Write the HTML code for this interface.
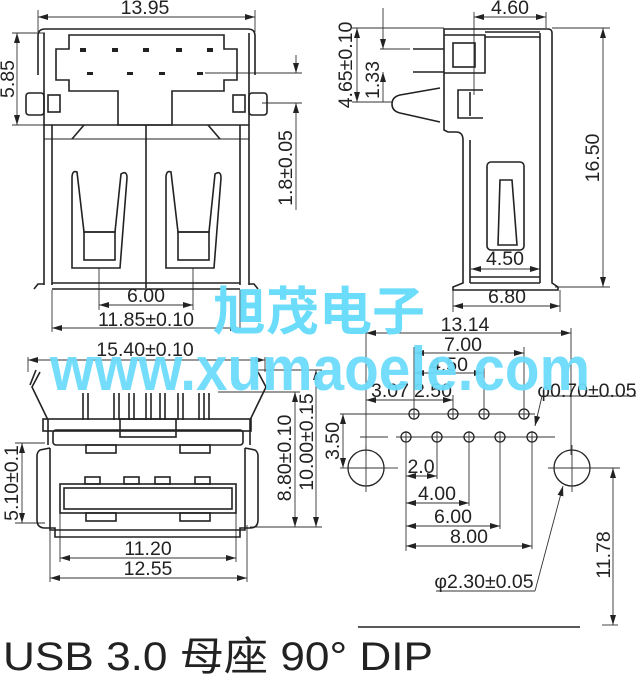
<!DOCTYPE html>
<html><head><meta charset="utf-8"><style>
html,body{margin:0;padding:0;background:#fff;}
svg{display:block;font-family:"Liberation Sans","Noto Sans CJK SC",sans-serif;}
.l{stroke:#222;stroke-width:1.6;fill:none}
.t{stroke:#333;stroke-width:0.9;fill:none}
.d{font-size:19.5px;fill:#222}
</style></head><body>
<svg width="639" height="676" viewBox="0 0 639 676" xmlns="http://www.w3.org/2000/svg">
<defs>
<marker id="a" viewBox="0 0 10 6" refX="10" refY="3" markerWidth="10" markerHeight="6" orient="auto-start-reverse" markerUnits="userSpaceOnUse"><path d="M0,0L10,3L0,6z" fill="#222"/></marker>
</defs>

<!-- ===== Top-left front view ===== -->
<g class="t">
<line x1="38" y1="10" x2="38" y2="32"/><line x1="255" y1="10" x2="255" y2="32"/>
<line x1="38" y1="17" x2="255" y2="17" marker-start="url(#a)" marker-end="url(#a)"/>
<line x1="12" y1="33" x2="45" y2="33"/><line x1="12" y1="125" x2="45" y2="125"/>
<line x1="17" y1="33" x2="17" y2="125" marker-start="url(#a)" marker-end="url(#a)"/>
<line x1="205" y1="73" x2="302" y2="73"/><line x1="262" y1="103" x2="302" y2="103"/>
<line x1="296" y1="55" x2="296" y2="73" marker-end="url(#a)"/>
<line x1="296" y1="103" x2="296" y2="210" marker-start="url(#a)"/>
<line x1="99" y1="268" x2="99" y2="310"/><line x1="193" y1="268" x2="193" y2="310"/>
<line x1="99" y1="305" x2="193" y2="305" marker-start="url(#a)" marker-end="url(#a)"/>
<line x1="52" y1="290" x2="52" y2="332"/><line x1="240" y1="290" x2="240" y2="332"/>
<line x1="52" y1="328" x2="240" y2="328" marker-start="url(#a)" marker-end="url(#a)"/>
</g>
<text class="d" x="145" y="14" text-anchor="middle">13.95</text>
<text class="d" transform="translate(14,79) rotate(-90)" text-anchor="middle">5.85</text>
<text class="d" transform="translate(292,168) rotate(-90)" text-anchor="middle">1.8±0.05</text>
<text class="d" x="146" y="302" text-anchor="middle">6.00</text>
<text class="d" x="146" y="326" text-anchor="middle">11.85±0.10</text>

<g class="l">
<path d="M38,75 L38,36 Q38,29 45,29 L248,29 Q255,29 255,36 L255,75"/>
<line x1="44" y1="33" x2="44" y2="125"/><line x1="249" y1="33" x2="249" y2="125"/>
<polygon points="69,35 224,35 224,49 237,49 237,80 224,80 224,91 172,91 172,125 118,125 118,91 69,91 69,80 56,80 56,49 69,49"/>
<line x1="44" y1="125" x2="249" y2="125"/>
<line x1="44" y1="139" x2="249" y2="139" style="stroke-width:1"/>
<line x1="44" y1="125" x2="44" y2="285"/><line x1="249" y1="125" x2="249" y2="285"/>
<line x1="52" y1="125" x2="52" y2="285"/><line x1="240" y1="125" x2="240" y2="285"/>
<line x1="146" y1="125" x2="146" y2="288"/>
<line x1="52" y1="283" x2="240" y2="283"/><line x1="52" y1="289" x2="240" y2="289"/>
<path d="M34,289 L38,284 L44,284"/><path d="M258,289 L254,284 L249,284"/>
<line x1="84" y1="125" x2="72" y2="139"/><line x1="208" y1="125" x2="220" y2="139"/>
<rect x="26" y="93" width="18" height="22" rx="3"/><rect x="48" y="95" width="12" height="17"/>
<rect x="249" y="93" width="18" height="22" rx="3"/><rect x="233" y="95" width="12" height="17"/>
<path d="M72,268 L72,178 Q72,170 77,172 L84,232 L115,232 L121,174 Q127,170 127,178 L120,268 Z"/>
<rect x="84" y="232" width="31" height="28"/>
<path d="M166,268 L166,178 Q166,170 171,172 L178,232 L209,232 L215,174 Q221,170 221,178 L214,268 Z"/>
<rect x="178" y="232" width="31" height="28"/>
</g>
<g fill="#222">
<rect x="80" y="48" width="6" height="4"/><rect x="112" y="48" width="6" height="4"/><rect x="143" y="48" width="6" height="4"/><rect x="176" y="48" width="6" height="4"/><rect x="207" y="48" width="6" height="4"/>
<rect x="87" y="72" width="6" height="3"/><rect x="127" y="72" width="6" height="3"/><rect x="159" y="72" width="6" height="3"/><rect x="197" y="72" width="6" height="3"/>
</g>

<!-- ===== Top-right side view ===== -->
<g class="t">
<line x1="474" y1="12" x2="474" y2="95"/><line x1="546" y1="12" x2="546" y2="28"/>
<line x1="474" y1="17" x2="546" y2="17" marker-start="url(#a)" marker-end="url(#a)"/>
<line x1="552" y1="28" x2="610" y2="28"/><line x1="555" y1="287" x2="610" y2="287"/>
<line x1="603" y1="28" x2="603" y2="287" marker-start="url(#a)" marker-end="url(#a)"/>
<line x1="352" y1="28" x2="444" y2="28"/><line x1="352" y1="102" x2="392" y2="102"/>
<line x1="357" y1="28" x2="357" y2="102" marker-start="url(#a)" marker-end="url(#a)"/>
<line x1="380" y1="49" x2="410" y2="49"/>
<line x1="383" y1="8" x2="383" y2="49" marker-end="url(#a)"/>
<line x1="383" y1="72" x2="383" y2="102" marker-start="url(#a)"/>
<line x1="453" y1="290" x2="453" y2="312"/><line x1="560" y1="290" x2="560" y2="312"/>
<line x1="453" y1="306" x2="560" y2="306" marker-start="url(#a)" marker-end="url(#a)"/>
<line x1="471" y1="269" x2="540" y2="269" marker-start="url(#a)" marker-end="url(#a)"/>
</g>
<text class="d" x="510" y="14" text-anchor="middle">4.60</text>
<text class="d" transform="translate(599,158) rotate(-90)" text-anchor="middle">16.50</text>
<text class="d" transform="translate(352,65) rotate(-90)" text-anchor="middle">4.65±0.10</text>
<text class="d" transform="translate(379,80) rotate(-90)" text-anchor="middle">1.33</text>
<text class="d" x="505" y="265" text-anchor="middle">4.50</text>
<text class="d" x="507" y="303" text-anchor="middle">6.80</text>
<g class="l">
<path d="M444,130 L444,29 L548,29 Q552,29 552,33 L552,283 L558,287 L558,290 L453,290 L453,287 L463,283 L463,140 Q463,132 456,132 L448,132 Z"/>
<line x1="540" y1="33" x2="540" y2="283"/>
<line x1="485" y1="32" x2="540" y2="32"/><line x1="485" y1="37" x2="540" y2="37"/>
<path d="M444,35 L485,35 L485,73 L444,73"/>
<rect x="453" y="43" width="22" height="24"/>
<path d="M483,90 L458,90 L458,118 L483,118 M470,92 L470,116"/>
<path d="M440,88 L400,95 Q392,97 392,104 Q392,111 400,113 L440,122"/>
<line x1="413" y1="49" x2="444" y2="49"/><line x1="413" y1="72" x2="444" y2="72"/>
<line x1="470" y1="140" x2="470" y2="283"/>
<line x1="470" y1="283" x2="540" y2="283"/><line x1="470" y1="277" x2="540" y2="277"/>
<rect x="487" y="162" width="37" height="88" rx="4"/>
<path d="M498,245 L500,180 L512,180 L517,245 Z"/>
</g>

<!-- ===== Bottom-left front view ===== -->
<g class="t">
<line x1="28" y1="357" x2="28" y2="372"/><line x1="265" y1="357" x2="265" y2="372"/>
<line x1="28" y1="360" x2="265" y2="360" marker-start="url(#a)" marker-end="url(#a)"/>
<line x1="255" y1="370" x2="322" y2="370"/><line x1="218" y1="392" x2="300" y2="392"/>
<line x1="250" y1="527" x2="322" y2="527"/>
<line x1="295" y1="392" x2="295" y2="527" marker-start="url(#a)" marker-end="url(#a)"/>
<line x1="316" y1="370" x2="316" y2="527" marker-start="url(#a)" marker-end="url(#a)"/>
<line x1="15" y1="443" x2="45" y2="443"/><line x1="15" y1="523" x2="45" y2="523"/>
<line x1="22" y1="443" x2="22" y2="523" marker-start="url(#a)" marker-end="url(#a)"/>
<line x1="60" y1="512" x2="60" y2="562"/><line x1="236" y1="512" x2="236" y2="562"/>
<line x1="60" y1="558" x2="236" y2="558" marker-start="url(#a)" marker-end="url(#a)"/>
<line x1="50" y1="525" x2="50" y2="582"/><line x1="247" y1="525" x2="247" y2="582"/>
<line x1="50" y1="578" x2="247" y2="578" marker-start="url(#a)" marker-end="url(#a)"/>
</g>
<text class="d" x="145" y="356" text-anchor="middle">15.40±0.10</text>
<text class="d" transform="translate(291,458) rotate(-90)" text-anchor="middle">8.80±0.10</text>
<text class="d" transform="translate(313,442) rotate(-90)" text-anchor="middle">10.00±0.15</text>
<text class="d" transform="translate(18,483) rotate(-90)" text-anchor="middle">5.10±0.1</text>
<text class="d" x="148" y="555" text-anchor="middle">11.20</text>
<text class="d" x="148" y="575" text-anchor="middle">12.55</text>
<g class="l">
<path d="M40,372 L32,387 L48,420 L48,445"/><path d="M36,370 L30,385"/>
<path d="M258,372 L266,387 L250,420 L250,445"/>
<path d="M83,393 L83,420 M88,393 L88,420 M114,393 L114,420 M119,393 L119,420 M129,393 L129,420 M134,393 L134,420 M146,393 L146,420 M151,393 L151,420 M160,393 L160,420 M165,393 L165,420 M178,393 L178,420 M183,393 L183,420 M199,393 L199,420 M204,393 L204,420 M209,393 L209,420"/>
<rect x="43" y="419" width="208" height="12"/>
<rect x="120" y="419" width="56" height="18"/>
<rect x="53" y="430" width="190" height="15" rx="3"/>
<path d="M50,448 L40,450 Q37,452 37,456 L37,520 Q37,528 45,528 L55,528 L55,537 L240,537 L240,528 L250,528 Q258,528 258,520 L258,456 Q258,452 255,450 L245,448"/>
<path d="M50,448 L50,530 L245,530 L245,448"/>
<rect x="60" y="484" width="176" height="29"/>
<rect x="64" y="488" width="168" height="21"/>
<rect x="86" y="445" width="30" height="8"/><rect x="180" y="445" width="30" height="8"/>
<rect x="85" y="477" width="15" height="7"/><rect x="124" y="477" width="15" height="7"/><rect x="155" y="477" width="15" height="7"/><rect x="195" y="477" width="15" height="7"/>
<rect x="86" y="513" width="30" height="8"/><rect x="180" y="513" width="30" height="8"/>
</g>

<!-- ===== Bottom-right PCB layout ===== -->
<g class="t">
<line x1="366" y1="328" x2="366" y2="455"/><line x1="571" y1="328" x2="571" y2="455"/>
<line x1="366" y1="333" x2="571" y2="333" marker-start="url(#a)" marker-end="url(#a)"/>
<line x1="414" y1="347" x2="414" y2="419"/><line x1="524" y1="347" x2="524" y2="419"/>
<line x1="414" y1="353" x2="524" y2="353" marker-start="url(#a)" marker-end="url(#a)"/>
<line x1="484" y1="368" x2="484" y2="419"/>
<line x1="414" y1="373" x2="484" y2="373" marker-start="url(#a)" marker-end="url(#a)"/>
<line x1="453" y1="395" x2="453" y2="419"/>
<line x1="366" y1="400" x2="453" y2="400" marker-start="url(#a)" marker-end="url(#a)"/>
<line x1="340" y1="414" x2="535" y2="414"/><line x1="360" y1="437" x2="388" y2="437"/><line x1="396" y1="437" x2="555" y2="437"/>
<line x1="340" y1="468" x2="348" y2="468"/><line x1="386" y1="468" x2="398" y2="468"/>
<line x1="548" y1="468" x2="620" y2="468"/>
<line x1="343" y1="414" x2="343" y2="468" marker-start="url(#a)" marker-end="url(#a)"/>
<line x1="406" y1="437" x2="406" y2="551"/>
<line x1="437" y1="437" x2="437" y2="479"/><line x1="469" y1="437" x2="469" y2="506"/>
<line x1="500" y1="437" x2="500" y2="529"/><line x1="532" y1="437" x2="532" y2="549"/>
<line x1="406" y1="476" x2="437" y2="476" marker-start="url(#a)" marker-end="url(#a)"/>
<line x1="406" y1="503" x2="469" y2="503" marker-start="url(#a)" marker-end="url(#a)"/>
<line x1="406" y1="526" x2="500" y2="526" marker-start="url(#a)" marker-end="url(#a)"/>
<line x1="406" y1="546" x2="532" y2="546" marker-start="url(#a)" marker-end="url(#a)"/>
<line x1="542" y1="396" x2="535" y2="426" marker-end="url(#a)"/>
<line x1="542" y1="396" x2="636" y2="396"/>
<line x1="436" y1="591" x2="535" y2="591"/>
<line x1="535" y1="591" x2="563" y2="486" marker-end="url(#a)"/>
<line x1="613" y1="468" x2="613" y2="625" marker-start="url(#a)" marker-end="url(#a)"/>
<line x1="602" y1="625" x2="618" y2="625"/>
</g>
<line x1="358" y1="627" x2="580" y2="627" stroke="#222" stroke-width="1.5"/>
<text class="d" x="465" y="331" text-anchor="middle">13.14</text>
<text class="d" x="463" y="351" text-anchor="middle">7.00</text>
<text class="d" x="449" y="371" text-anchor="middle">4.50</text>
<text class="d" x="390" y="397" text-anchor="middle">3.07</text>
<text class="d" x="433" y="397" text-anchor="middle">2.50</text>
<text class="d" x="587" y="397" text-anchor="middle">φ0.70±0.05</text>
<text class="d" transform="translate(339,441) rotate(-90)" text-anchor="middle">3.50</text>
<text class="d" x="421" y="473" text-anchor="middle">2.0</text>
<text class="d" x="437" y="500" text-anchor="middle">4.00</text>
<text class="d" x="453" y="523" text-anchor="middle">6.00</text>
<text class="d" x="469" y="543" text-anchor="middle">8.00</text>
<text class="d" x="484" y="588" text-anchor="middle">φ2.30±0.05</text>
<text class="d" transform="translate(610,555) rotate(-90)" text-anchor="middle">11.78</text>
<g class="l" style="stroke-width:1.3">
<circle cx="414" cy="414" r="5"/><circle cx="453" cy="414" r="5"/><circle cx="484" cy="414" r="5"/><circle cx="524" cy="414" r="5"/>
<circle cx="406" cy="437" r="5"/><circle cx="437" cy="437" r="5"/><circle cx="469" cy="437" r="5"/><circle cx="500" cy="437" r="5"/><circle cx="532" cy="437" r="5"/>
<circle cx="366" cy="468" r="18"/><circle cx="572" cy="468" r="18"/>
</g>
<g class="t">
<line x1="414" y1="408" x2="414" y2="420"/><line x1="453" y1="408" x2="453" y2="420"/><line x1="484" y1="408" x2="484" y2="420"/><line x1="524" y1="408" x2="524" y2="420"/>
<line x1="406" y1="431" x2="406" y2="443"/><line x1="437" y1="431" x2="437" y2="443"/><line x1="469" y1="431" x2="469" y2="443"/><line x1="500" y1="431" x2="500" y2="443"/><line x1="532" y1="431" x2="532" y2="443"/>
<line x1="366" y1="445" x2="366" y2="492"/><line x1="348" y1="468" x2="386" y2="468"/>
<line x1="572" y1="445" x2="572" y2="492"/><line x1="550" y1="468" x2="592" y2="468"/>
</g>

<!-- watermark -->
<text x="213" y="330" font-size="52" fill="#6cdcfb" textLength="212" lengthAdjust="spacingAndGlyphs" font-weight="bold">旭茂电子</text>
<text x="50" y="390" font-size="62" fill="#6cdcfb" textLength="540" lengthAdjust="spacingAndGlyphs" font-weight="bold" opacity="0.95">www.xumaoele.com</text>

<!-- title -->
<text x="3" y="670" font-size="40" fill="#222" textLength="430" lengthAdjust="spacingAndGlyphs">USB 3.0 母座 90°  DIP</text>
</svg>
</body></html>
